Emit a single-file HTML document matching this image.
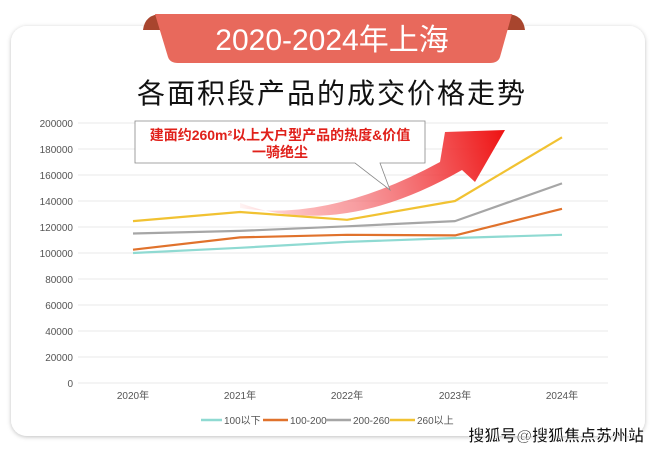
<!DOCTYPE html>
<html><head><meta charset="utf-8"><style>
body{margin:0;width:660px;height:451px;background:#fff;overflow:hidden;font-family:"Liberation Sans","Noto Sans CJK SC",sans-serif;}
</style></head><body>
<svg width="660" height="451" viewBox="0 0 660 451" xmlns="http://www.w3.org/2000/svg" style="position:absolute;left:0;top:0">
<defs>
<filter id="sh" x="-5%" y="-5%" width="110%" height="110%"><feDropShadow dx="0" dy="1" stdDeviation="2" flood-color="#000" flood-opacity="0.25"/></filter>
<linearGradient id="ag" x1="240" y1="205" x2="505" y2="130" gradientUnits="userSpaceOnUse">
<stop offset="0" stop-color="#ff2a2a" stop-opacity="0.05"/><stop offset="0.4" stop-color="#f4757a" stop-opacity="0.7"/><stop offset="1" stop-color="#ee1111"/></linearGradient>
</defs>
<rect x="11" y="26" width="501" height="0" fill="none"/>
<rect x="11" y="26" width="634" height="410" rx="16" fill="#fff" filter="url(#sh)"/>
<!-- banner -->
<path d="M143 30 Q145 14 162 14 L170 14 L170 30 Z" fill="#a8452e"/>
<path d="M525 30 Q523 14 506 14 L498 14 L498 30 Z" fill="#a8452e"/>
<path d="M155 14 L512 14 L500 57 Q498 63 490 63 L178 63 Q170 63 168 57 Z" fill="#e8695c"/>
<text x="332" y="50" font-size="30" fill="#fff" text-anchor="middle">2020-2024年上海</text>
<text x="332" y="103" font-size="28" fill="#111" text-anchor="middle" letter-spacing="2">各面积段产品的成交价格走势</text>
<!-- grid -->
<g stroke="#e8e8e8" stroke-width="1">
<line x1="78" x2="608" y1="123" y2="123"/><line x1="78" x2="608" y1="149" y2="149"/><line x1="78" x2="608" y1="175" y2="175"/><line x1="78" x2="608" y1="201" y2="201"/><line x1="78" x2="608" y1="227" y2="227"/><line x1="78" x2="608" y1="253" y2="253"/><line x1="78" x2="608" y1="279" y2="279"/><line x1="78" x2="608" y1="305" y2="305"/><line x1="78" x2="608" y1="331" y2="331"/><line x1="78" x2="608" y1="357" y2="357"/><line x1="78" x2="608" y1="383" y2="383"/>
</g>
<g font-size="10" fill="#555" text-anchor="end">
<text x="73" y="127">200000</text><text x="73" y="153">180000</text><text x="73" y="179">160000</text><text x="73" y="205">140000</text><text x="73" y="231">120000</text><text x="73" y="257">100000</text><text x="73" y="283">80000</text><text x="73" y="309">60000</text><text x="73" y="335">40000</text><text x="73" y="361">20000</text><text x="73" y="387">0</text>
</g>
<g font-size="10" fill="#555" text-anchor="middle">
<text x="133" y="399">2020年</text><text x="240" y="399">2021年</text><text x="347" y="399">2022年</text><text x="455" y="399">2023年</text><text x="562" y="399">2024年</text>
</g>
<!-- arrow -->
<path d="M240 208 Q330 222 440 162 L445 132 L505 130 L475 182 L462 170 Q340 240 240 203 Z" fill="url(#ag)"/>
<!-- series -->
<g fill="none" stroke-width="2.2" stroke-linejoin="round">
<polyline stroke="#8fdad2" points="133,253 240,247.8 347,241.9 455,238 562,234.8"/>
<polyline stroke="#e0722c" points="133,249.7 240,237.4 347,234.8 455,235.4 562,208.8"/>
<polyline stroke="#a6a6a6" points="133,233.5 240,230.9 347,226.3 455,221.1 562,183.4"/>
<polyline stroke="#f1c232" points="133,221.1 240,212 347,219.8 455,201 562,137.3"/>
</g>
<!-- callout -->
<path d="M135 121 L425 121 L425 163 L380 163 L390 190 L355 163 L135 163 Z" fill="#fff" stroke="#888" stroke-width="0.8"/>
<text x="280" y="140" font-size="14" font-weight="bold" fill="#e0201a" text-anchor="middle">建面约260m²以上大户型产品的热度&amp;价值</text>
<text x="280" y="157" font-size="14" font-weight="bold" fill="#e0201a" text-anchor="middle">一骑绝尘</text>
<!-- legend -->
<g font-size="10" fill="#555">
<line x1="201" x2="222" y1="420" y2="420" stroke="#8fdad2" stroke-width="2.5"/><text x="224" y="424">100以下</text>
<line x1="263" x2="288" y1="420" y2="420" stroke="#e0722c" stroke-width="2.5"/><text x="290" y="424">100-200</text>
<line x1="326" x2="351" y1="420" y2="420" stroke="#a6a6a6" stroke-width="2.5"/><text x="353" y="424">200-260</text>
<line x1="390" x2="415" y1="420" y2="420" stroke="#f1c232" stroke-width="2.5"/><text x="417" y="424">260以上</text>
</g>
<text x="644" y="441" font-size="16" font-weight="bold" fill="#111" stroke="#fff" stroke-width="0.6" text-anchor="end">搜狐号@搜狐焦点苏州站</text>
</svg>
</body></html>
